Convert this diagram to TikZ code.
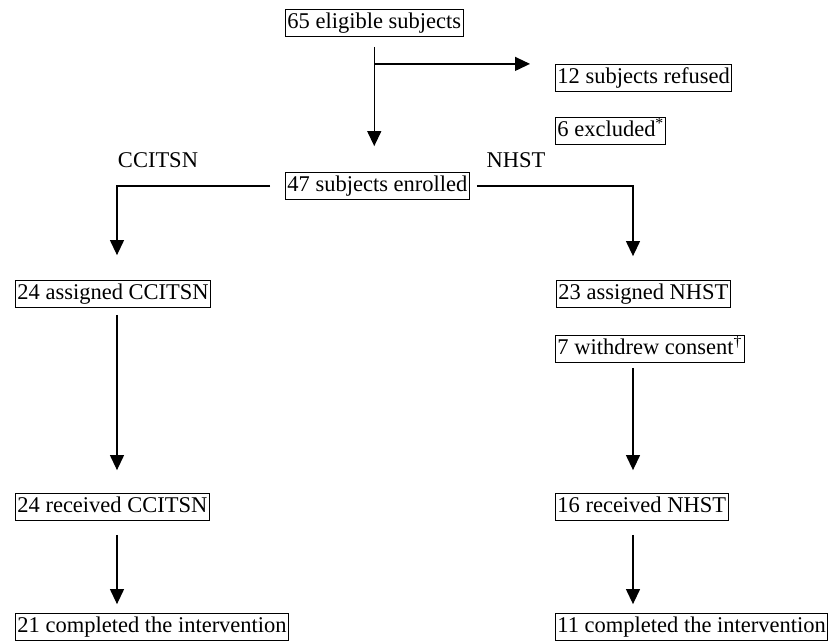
\documentclass[tikz,border=0pt]{standalone}
\usepackage{fontspec}
\setmainfont{Liberation Serif}
\usetikzlibrary{arrows.meta,calc}

\tikzset{
    stage/.style={draw, line width=0.8pt, anchor=west, inner xsep=2pt, inner ysep=3pt,
        text height=16pt, text depth=5pt, font=\fontsize{22.5}{27}\selectfont},
    arm/.style={font=\fontsize{22.5}{27}\selectfont, inner sep=0pt},
    flow/.style={line width=1.2pt, -{Triangle[length=15pt,width=14pt]}},
}

\begin{document}
\begin{tikzpicture}[x=1pt, y=-1pt]
    % Page
    \useasboundingbox (0,0) rectangle (830,641);

    % Columns of the two arms
    \coordinate (colC) at (117,0);
    \coordinate (colN) at (633,0);

    % Screening
    \node[stage] (elig) at (285,23) {65 eligible subjects};
    \node[stage] (refu) at (555,78) {12 subjects refused};
    \node[stage] (excl) at (555,131) {6 excluded\textsuperscript{*}};
    \node[stage] (enrl) at (285,186) {47 subjects enrolled};

    % Arm labels
    \node[arm] (labC) at (158,160) {CCITSN};
    \node[arm] (labN) at (516,160) {NHST};

    % CCITSN arm
    \node[stage] (asgC) at (15,294) {24 assigned CCITSN};
    \node[stage] (recC) at (15,507) {24 received CCITSN};
    \node[stage] (cmpC) at (15,627) {21 completed the intervention};

    % NHST arm
    \node[stage] (asgN) at (556,294) {23 assigned NHST};
    \node[stage] (wdrw) at (555,349) {7 withdrew consent\textsuperscript{\textdagger}};
    \node[stage] (recN) at (555,507) {16 received NHST};
    \node[stage] (cmpN) at (555,627) {11 completed the intervention};

    % Screening flow
    \draw[flow] ([yshift=-10pt]elig.south) -- ([yshift=26pt]elig.south |- enrl.north);
    \coordinate (split) at ($(elig.south)+(0,27)$);
    \draw[flow] (split) -- ([xshift=-25pt]split -| refu.west);

    % Randomisation
    \draw[flow] ([xshift=-15pt]enrl.west) -| ([yshift=25pt]asgC.north -| colC);
    \draw[flow] ([xshift=7pt]enrl.east) -| ([yshift=24pt]asgN.north -| colN);

    % Follow-up
    \draw[flow] ([yshift=-7pt]asgC.south -| colC) -- ([yshift=23pt]recC.north -| colC);
    \draw[flow] ([yshift=-5pt]wdrw.south -| colN) -- ([yshift=23pt]recN.north -| colN);
    \draw[flow] ([yshift=-14pt]recC.south -| colC) -- ([yshift=9pt]cmpC.north -| colC);
    \draw[flow] ([yshift=-14pt]recN.south -| colN) -- ([yshift=9pt]cmpN.north -| colN);
\end{tikzpicture}
\end{document}
